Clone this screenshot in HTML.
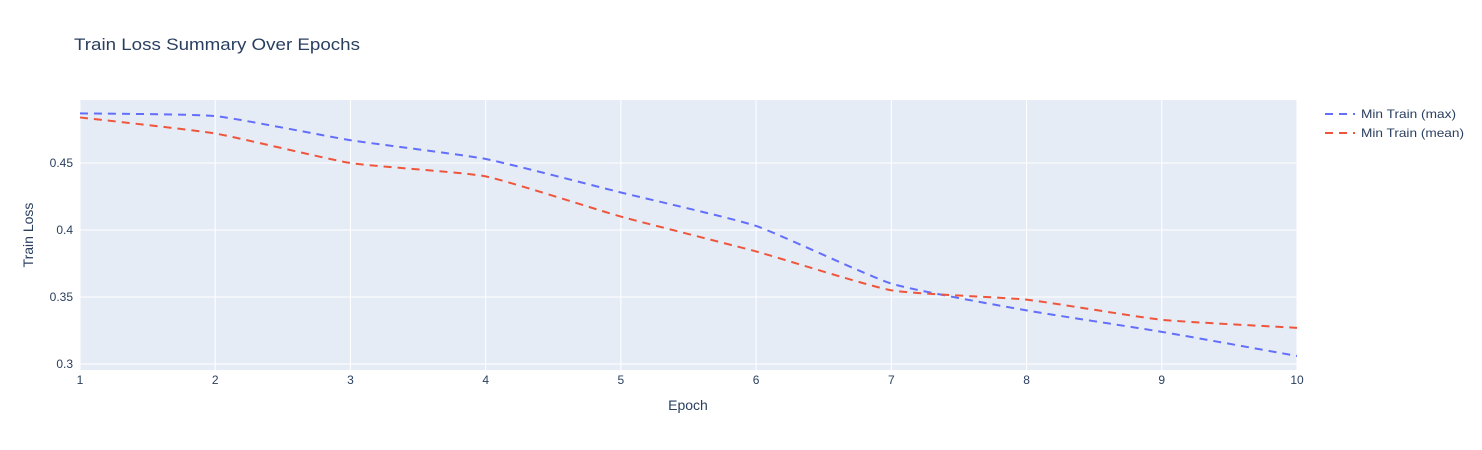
<!DOCTYPE html>
<html><head><meta charset="utf-8">
<style>
body{margin:0;background:#fff;}
svg{display:block;font-family:"Liberation Sans",Arial,sans-serif;}
</style></head>
<body>
<svg id="chart" width="1482" height="450">
<rect x="0" y="0" width="1482" height="450" fill="#fff"/>
<rect x="80" y="100" width="1217" height="270" fill="#e5ecf6"/>
<g id="grid"></g>
<g id="lines"></g>
<g id="ticks"></g>
<text x="74" y="50" font-size="17" fill="#2a3f5f" textLength="286" lengthAdjust="spacingAndGlyphs">Train Loss Summary Over Epochs</text>
<text x="688" y="410" font-size="14" fill="#2a3f5f" text-anchor="middle">Epoch</text>
<text x="33" y="235" font-size="14" fill="#2a3f5f" text-anchor="middle" transform="rotate(-90 33 235)">Train Loss</text>
<g>
<g>
<line x1="1325" y1="114" x2="1355" y2="114" stroke="#636efa" stroke-width="2" stroke-dasharray="8,6"/>
<text x="1361" y="118" font-size="12" fill="#2a3f5f" textLength="95" lengthAdjust="spacingAndGlyphs">Min Train (max)</text></g>
<g>
<line x1="1325" y1="133" x2="1355" y2="133" stroke="#EF553B" stroke-width="2" stroke-dasharray="8,6"/>
<text x="1361" y="137" font-size="12" fill="#2a3f5f" textLength="103" lengthAdjust="spacingAndGlyphs">Min Train (mean)</text></g>
</g>
</svg>
<script>
const epochs=[1,2,3,4,5,6,7,8,9,10];
const maxValues=[0.487,0.485,0.467,0.453,0.428,0.403,0.360,0.340,0.324,0.306];
const meanValues=[0.484,0.472,0.450,0.440,0.410,0.384,0.355,0.348,0.333,0.327];
const yTicks=[0.3,0.35,0.4,0.45];
const yTickLabels=["0.3","0.35","0.4","0.45"];
const ns="http://www.w3.org/2000/svg";
function xs(v){return 80+(v-1)*(1217/9);}
function ys(v){return 364-(v-0.3)/0.05*67;}
const grid=document.getElementById('grid'),ticks=document.getElementById('ticks'),lines=document.getElementById('lines');
epochs.forEach(e=>{
 const l=document.createElementNS(ns,'line');
 
 
 l.setAttribute('x1',xs(e));l.setAttribute('x2',xs(e));l.setAttribute('y1',100);l.setAttribute('y2',370);
 l.setAttribute('stroke','#fff');l.setAttribute('stroke-width',1);grid.appendChild(l);
 const t=document.createElementNS(ns,'text');
 
 
 t.setAttribute('x',xs(e));t.setAttribute('y',384);t.setAttribute('font-size',12);t.setAttribute('fill','#2a3f5f');t.setAttribute('text-anchor','middle');
 t.textContent=e;ticks.appendChild(t);
});
yTicks.forEach((v,i)=>{
 const l=document.createElementNS(ns,'line');
 
 
 l.setAttribute('x1',80);l.setAttribute('x2',1297);l.setAttribute('y1',ys(v));l.setAttribute('y2',ys(v));
 l.setAttribute('stroke','#fff');l.setAttribute('stroke-width',1);grid.appendChild(l);
 const t=document.createElementNS(ns,'text');
 
 
 t.setAttribute('x',73);t.setAttribute('y',ys(v)+4);t.setAttribute('font-size',12);t.setAttribute('fill','#2a3f5f');t.setAttribute('text-anchor','end');
 t.textContent=yTickLabels[i];ticks.appendChild(t);
});
function pathFor(vals){
 const p=vals.map((v,i)=>[xs(epochs[i]),ys(v)]);
 let d='M'+p[0][0]+','+p[0][1];const k=0.08;
 for(let i=0;i<p.length-1;i++){
  const p0=p[i-1]||p[i],p1=p[i],p2=p[i+1],p3=p[i+2]||p[i+1];
  const c1=[p1[0]+(p2[0]-p0[0])*k,p1[1]+(p2[1]-p0[1])*k];
  const c2=[p2[0]-(p3[0]-p1[0])*k,p2[1]-(p3[1]-p1[1])*k];
  d+=' C'+c1+' '+c2+' '+p2;
 }
 return d;
}
[[maxValues,'#636efa','line-max'],[meanValues,'#EF553B','line-mean']].forEach(s=>{
 const pa=document.createElementNS(ns,'path');
 
 
 pa.setAttribute('d',pathFor(s[0]));pa.setAttribute('fill','none');pa.setAttribute('stroke',s[1]);
 pa.setAttribute('stroke-width',2);pa.setAttribute('stroke-dasharray','8,6');lines.appendChild(pa);
});
</script>
</body></html>
